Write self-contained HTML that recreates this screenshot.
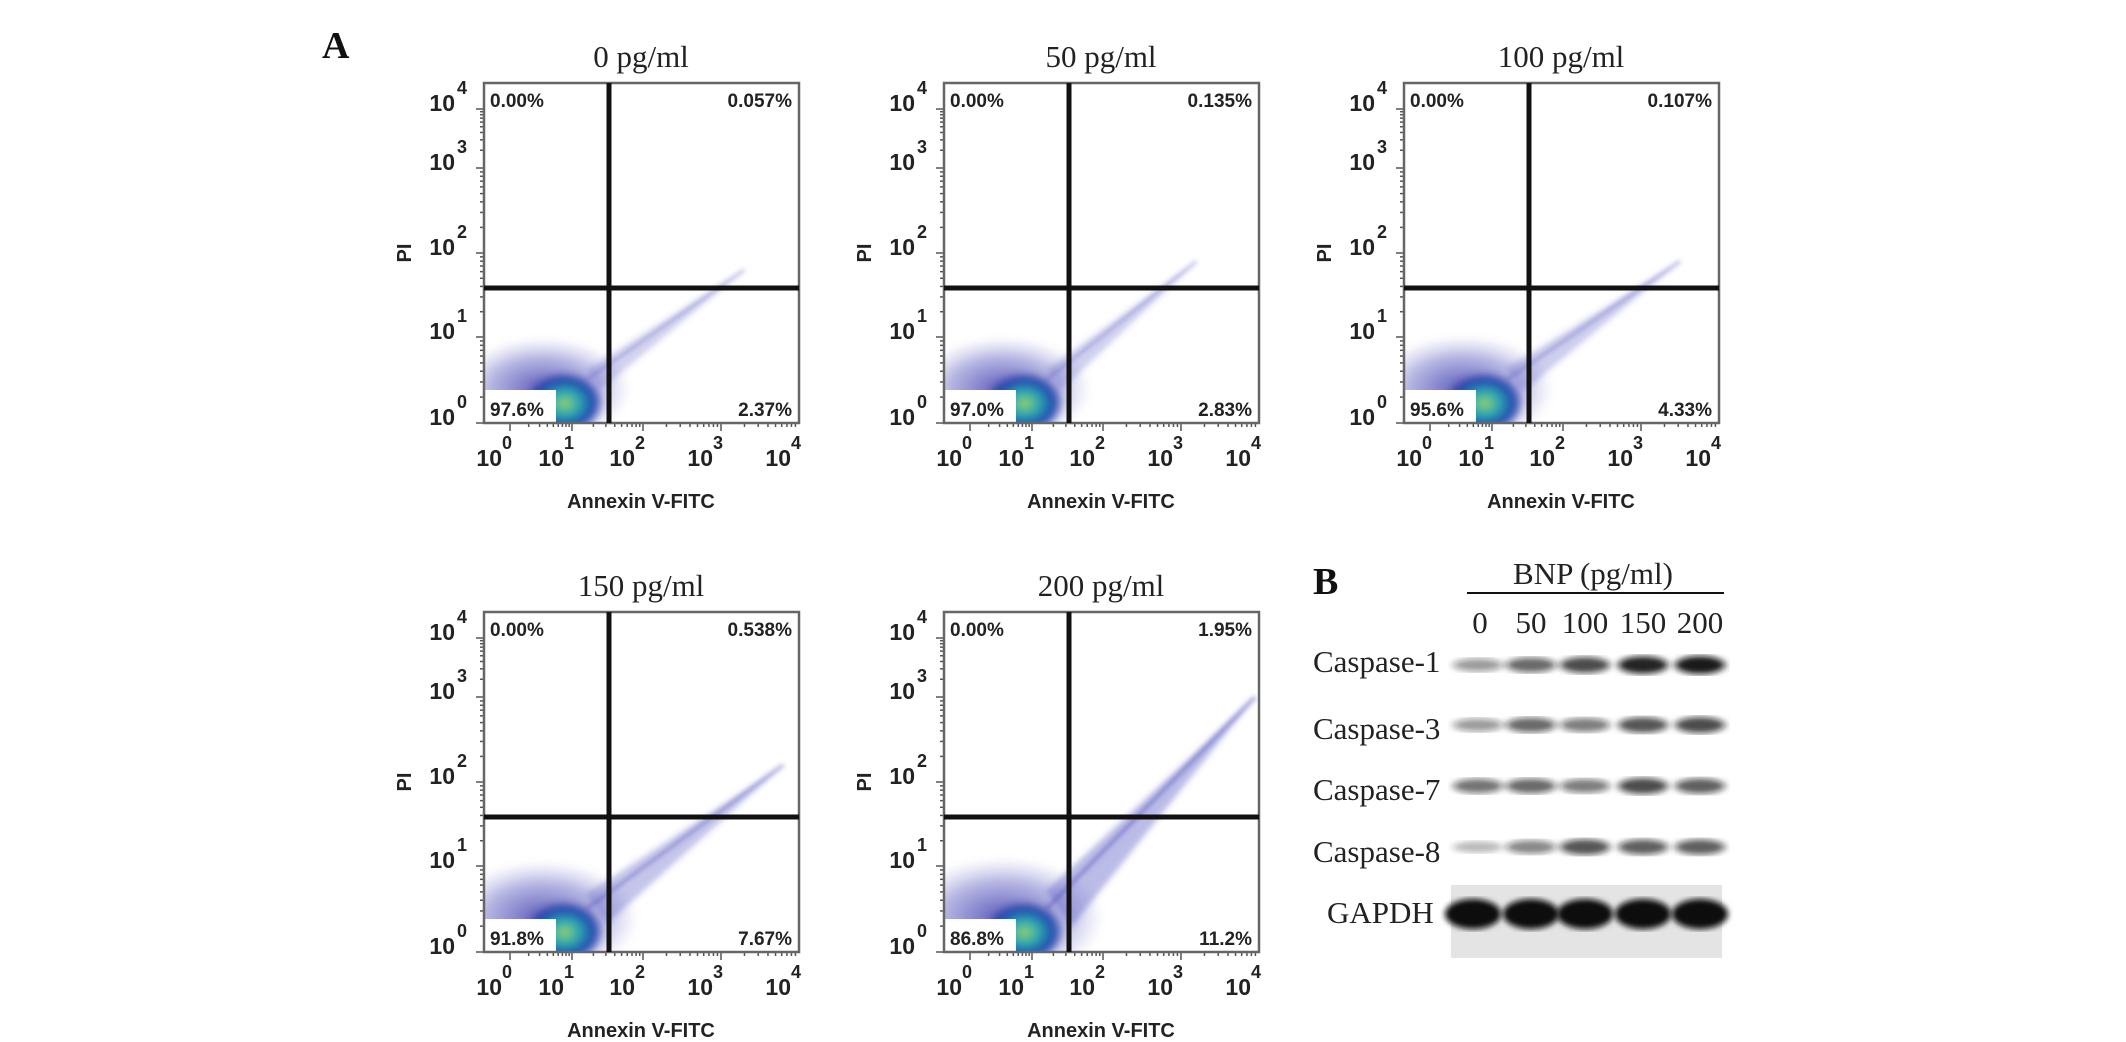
<!DOCTYPE html>
<html><head><meta charset="utf-8">
<style>
html,body{margin:0;padding:0;background:#fff;}
svg{display:block;}
.pct{font-family:"Liberation Sans",sans-serif;font-weight:bold;font-size:19px;fill:#222;}
.tk{font-family:"Liberation Sans",sans-serif;font-weight:bold;font-size:23px;fill:#222;}
.sup{font-family:"Liberation Sans",sans-serif;font-weight:bold;font-size:18px;fill:#222;}
.ttl{font-family:"Liberation Serif",serif;font-size:31px;fill:#222;}
.lab{font-family:"Liberation Sans",sans-serif;font-weight:bold;font-size:20px;fill:#222;}
.wb{font-family:"Liberation Serif",serif;font-size:31px;fill:#222;}
</style></head>
<body>
<svg id="fig" width="2126" height="1042" viewBox="0 0 2126 1042" xmlns="http://www.w3.org/2000/svg">
<defs>
<filter id="blur3"><feGaussianBlur stdDeviation="3"/></filter>
<filter id="blur2"><feGaussianBlur stdDeviation="2"/></filter>
<filter id="bandblur"><feGaussianBlur stdDeviation="4 3"/></filter>
<clipPath id="boxclip"><rect x="484" y="83" width="315" height="340"/></clipPath>
<radialGradient id="core" cx="50%" cy="50%" r="50%">
<stop offset="0" stop-color="#8fd070"/><stop offset="0.35" stop-color="#30a8b0"/><stop offset="0.7" stop-color="#2050b0"/><stop offset="1" stop-color="#2c2ca0" stop-opacity="0"/>
</radialGradient>
<radialGradient id="halo" cx="50%" cy="50%" r="50%">
<stop offset="0" stop-color="#3030a8" stop-opacity="0.8"/><stop offset="0.6" stop-color="#4848b8" stop-opacity="0.4"/><stop offset="1" stop-color="#8080d0" stop-opacity="0"/>
</radialGradient>
</defs>
<text x="322" y="58" font-family="Liberation Serif, serif" font-weight="bold" font-size="38" fill="#111">A</text>
<text x="1313" y="594" font-family="Liberation Serif, serif" font-weight="bold" font-size="38" fill="#111">B</text>
</svg>
<script>
const panelTitles = ['0 pg/ml','50 pg/ml','100 pg/ml','150 pg/ml','200 pg/ml'];
const ulPct = ['0.00%','0.00%','0.00%','0.00%','0.00%'];
const urPct = ['0.057%','0.135%','0.107%','0.538%','1.95%'];
const llPct = ['97.6%','97.0%','95.6%','91.8%','86.8%'];
const lrPct = ['2.37%','2.83%','4.33%','7.67%','11.2%'];
const tailEndX = [3.3, 3.2, 3.5, 3.8, 3.95];
const tailEndY = [1.8, 1.9, 1.9, 2.2, 3.0];
const decades = [0,1,2,3,4];
const lanes = ['0','50','100','150','200'];
const proteins = ['Caspase-1','Caspase-3','Caspase-7','Caspase-8'];
const casp1 = [0.35,0.6,0.75,0.95,1.0];
const casp3 = [0.35,0.6,0.5,0.7,0.75];
const casp7 = [0.55,0.6,0.5,0.75,0.65];
const casp8 = [0.15,0.45,0.7,0.65,0.65];
const gapdh = [1,1,1,1,1];

const NS='http://www.w3.org/2000/svg';
const svg=document.getElementById('fig');
function mk(tag,attrs,parent){const e=document.createElementNS(NS,tag);for(const k in attrs)e.setAttribute(k,attrs[k]);(parent||svg).appendChild(e);return e;}

const BOX={l:484,r:799,t:83,b:423};
const xMaj=[510,572,643,721,799];
const yMaj=[423,337,253,168,109];
function interp(arr,v){const i=Math.max(0,Math.min(3,Math.floor(v)));const f=v-i;return arr[i]+(arr[i+1]-arr[i])*f;}
function xScale(v){return interp(xMaj,v);}
function yScale(v){return interp(yMaj,v);}
const GX=609, GY=288;
const offsets=[[0,0],[460,0],[920,0],[0,529],[460,529]];

panelTitles.forEach((title,i)=>{
  const [dx,dy]=offsets[i];
  const g=mk('g',{transform:`translate(${dx},${dy})`});
  
  
  const t=mk('text',{x:641,y:67,'text-anchor':'middle',class:'ttl'},g);t.textContent=title;
  
  
  const lr=parseFloat(lrPct[i]);
  const sc=mk('g',{'clip-path':'url(#boxclip)'},g);
  
  
  const cx=xScale(0.85), cy=yScale(0.3);
  mk('ellipse',{cx:cx-20,cy:cy-8,rx:85+lr*1.5,ry:50+lr,fill:'url(#halo)',filter:'url(#blur3)'},sc);
  const x0=xScale(1.2),y0=yScale(0.5),x1=xScale(tailEndX[i]),y1=yScale(tailEndY[i]);
  const w=8+lr*0.9;
  mk('polygon',{points:`${x0},${y0-w} ${x1},${y1} ${x0+w*1.4},${y0+w}`,fill:'#5050c0','fill-opacity':0.22+lr*0.015,filter:'url(#blur3)'},sc);
  mk('line',{x1:x0,y1:y0,x2:x1,y2:y1,stroke:'#3838b0','stroke-width':1.5+lr*0.2,'stroke-opacity':0.4,filter:'url(#blur2)'},sc);
  mk('ellipse',{cx:cx+2,cy:cy+6,rx:40,ry:32,fill:'url(#core)',filter:'url(#blur3)'},sc);
  mk('rect',{x:BOX.l,y:390,width:72,height:33,fill:'#fff'},g);
  for(let d=0;d<4;d++){for(let m=1;m<10;m++){const v=d+Math.log10(m);const y=yScale(v);
    mk('line',{x1:BOX.l-(m===1?8:4),x2:BOX.l,y1:y,y2:y,stroke:'#555','stroke-width':1.5},g);}}
  mk('line',{x1:BOX.l-8,x2:BOX.l,y1:yScale(4),y2:yScale(4),stroke:'#555','stroke-width':1.5},g);
  for(let d=0;d<4;d++){for(let m=1;m<10;m++){const v=d+Math.log10(m);const x=xScale(v);
    mk('line',{y1:BOX.b,y2:BOX.b+(m===1?8:4),x1:x,x2:x,stroke:'#555','stroke-width':1.5},g);}}
  decades.forEach(d=>{
    const y=yScale(d);
    const a=mk('text',{x:BOX.l-29,y:y+2,'text-anchor':'end',class:'tk'},g);a.textContent='10';
    
    
    const s=mk('text',{x:BOX.l-27,y:y-15,class:'sup'},g);s.textContent=String(d);
    const x=xScale(d);
    const b=mk('text',{x:x-8,y:BOX.b+43,'text-anchor':'end',class:'tk'},g);b.textContent='10';
    
    
    const s2=mk('text',{x:x-8,y:BOX.b+26,class:'sup'},g);s2.textContent=String(d);
  });
  mk('rect',{x:BOX.l,y:BOX.t,width:BOX.r-BOX.l,height:BOX.b-BOX.t,fill:'none',stroke:'#666','stroke-width':2.5},g);
  const gv=mk('line',{x1:GX,x2:GX,y1:BOX.t,y2:BOX.b,stroke:'#111','stroke-width':5},g);
  
  
  const gh=mk('line',{x1:BOX.l,x2:BOX.r,y1:GY,y2:GY,stroke:'#111','stroke-width':5},g);
  
  
  const p1=mk('text',{x:BOX.l+6,y:BOX.t+24,class:'pct'},g);p1.textContent=ulPct[i];
  
  
  const p2=mk('text',{x:BOX.r-7,y:BOX.t+24,'text-anchor':'end',class:'pct'},g);p2.textContent=urPct[i];
  
  
  const p3=mk('text',{x:BOX.l+6,y:BOX.b-7,class:'pct'},g);p3.textContent=llPct[i];
  
  
  const p4=mk('text',{x:BOX.r-7,y:BOX.b-7,'text-anchor':'end',class:'pct'},g);p4.textContent=lrPct[i];
  
  
  const xt=mk('text',{x:641,y:508,'text-anchor':'middle',class:'lab'},g);xt.textContent='Annexin V-FITC';
  
  
  const yt=mk('text',{x:0,y:0,'text-anchor':'middle',class:'lab',transform:'translate(411,253) rotate(-90)'},g);yt.textContent='PI';
  
  
});

const laneX=[1480,1531,1585,1643,1700];
const rowY=[665,725,786,847];
const labY=[672,739,800,862];
const bnp=mk('text',{x:1593,y:584,'text-anchor':'middle',class:'wb','font-size':'29'});bnp.textContent='BNP (pg/ml)';


mk('line',{x1:1467,x2:1724,y1:593,y2:593,stroke:'#111','stroke-width':2});
lanes.forEach((l,j)=>{const t=mk('text',{x:laneX[j],y:633,'text-anchor':'middle',class:'wb','font-size':'28'});t.textContent=l;
  
  });
const bandData=[casp1,casp3,casp7,casp8];
proteins.forEach((p,r)=>{
  const t=mk('text',{x:1313,y:labY[r],class:'wb'});t.textContent=p;
  
  
  bandData[r].forEach((v,j)=>{
    const b=mk('ellipse',{cx:laneX[j]+(j===0?-2:0),cy:rowY[r],rx:25,ry:5+v*4,fill:'#111','fill-opacity':0.15+v*0.8,filter:'url(#bandblur)'});
    
    
  });
});
const gt=mk('text',{x:1327,y:923,class:'wb'});gt.textContent='GAPDH';


mk('rect',{x:1451,y:885,width:271,height:73,fill:'#e4e4e4'});
gapdh.forEach((v,j)=>{
  const b=mk('ellipse',{cx:laneX[j]+(j===0?-7:0),cy:914,rx:28,ry:15*v,fill:'#080808',filter:'url(#blur3)'});
  
  
});
</script>
</body></html>
